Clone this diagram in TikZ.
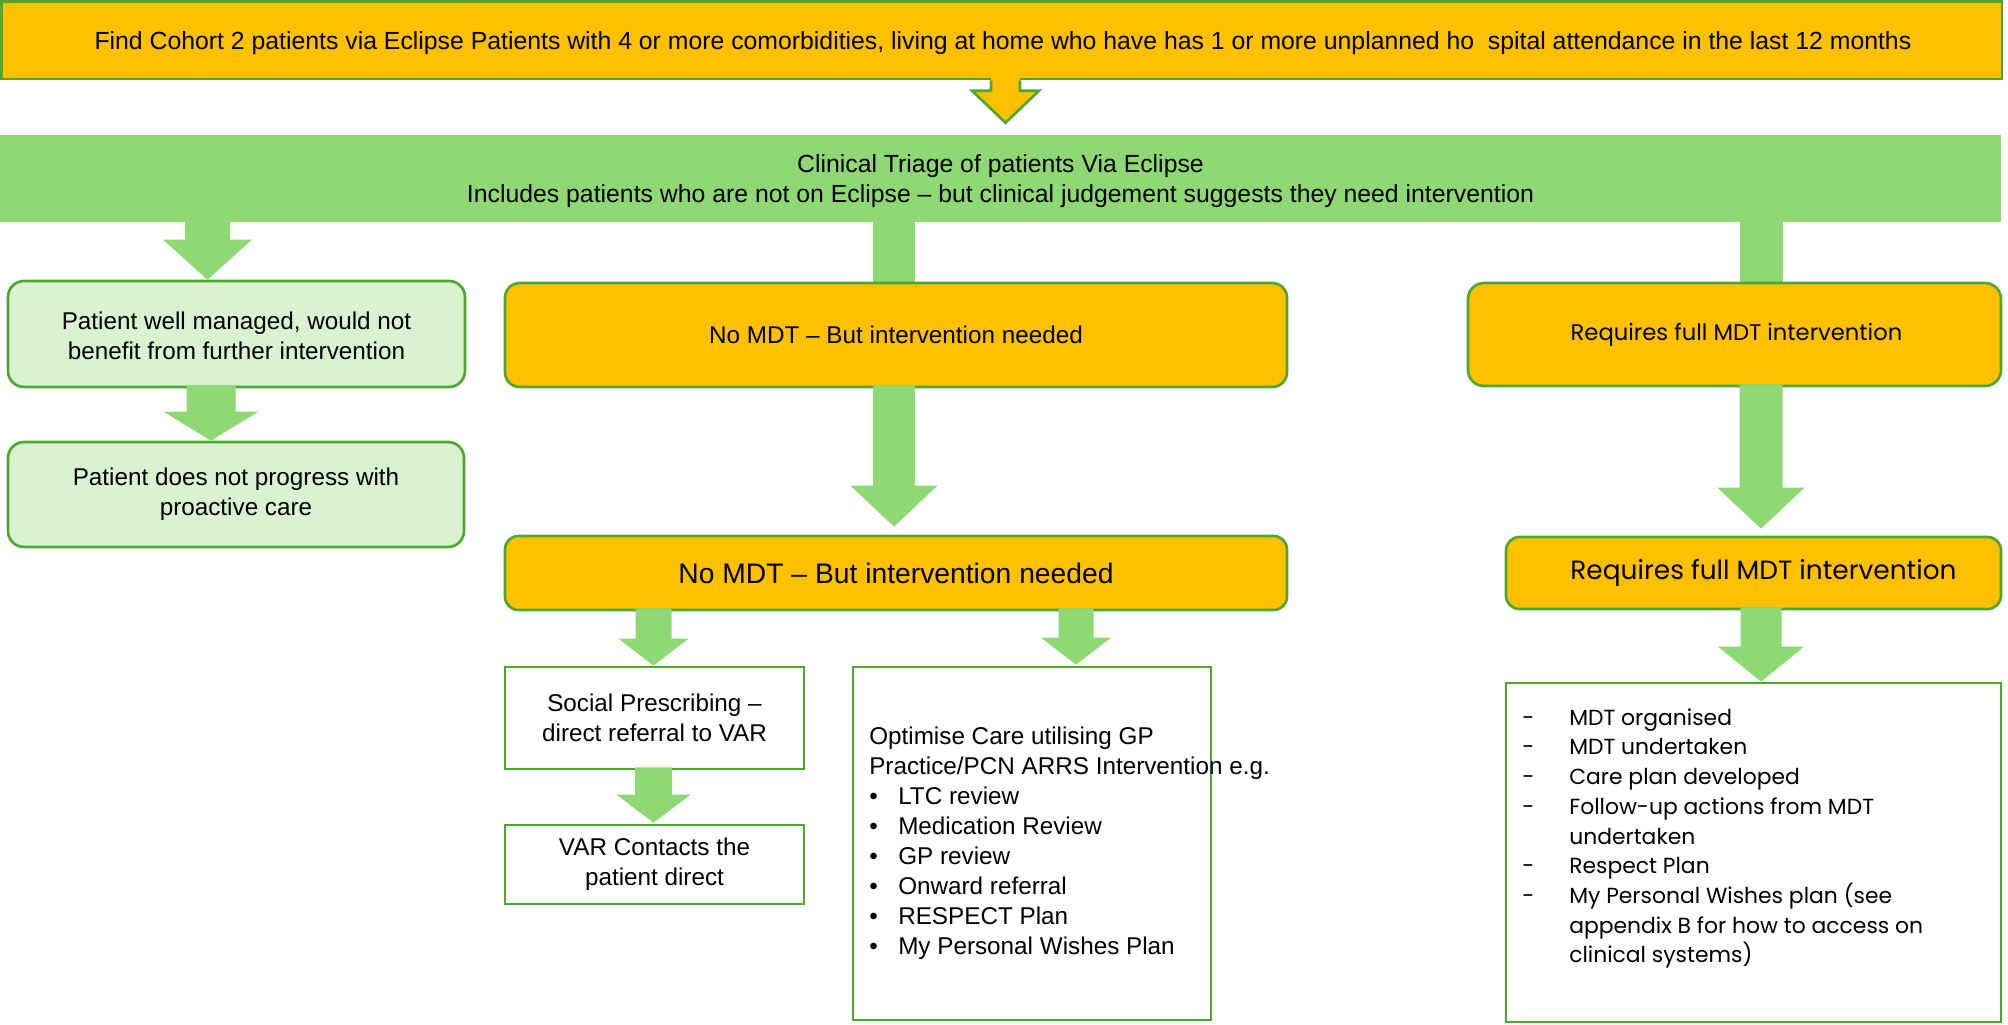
\documentclass[tikz,border=0pt]{standalone}
\usepackage{fontspec}
\setmainfont{Liberation Sans}
\newfontfamily\gothic{Poppins}
\usetikzlibrary{fit,calc}
\definecolor{gold}{HTML}{FFC000}
\definecolor{gline}{HTML}{4EA72E}
\definecolor{gfill}{HTML}{8ED973}
\definecolor{gpale}{HTML}{D9F2D0}
% block arrow: #1 style, #2 x-coordinate, #3 source, #4 target, #5 shaft half, #6 head half, #7 head length, #8 gap
\newcommand\blockarr[8]{%
  \path[#1] ($(#2 |- #3.south)+(-#5,-3)$) -- ($(#2 |- #3.south)+(#5,-3)$)
    -- ($(#2 |- #4.north)+(#5,-#7-#8)$) -- ($(#2 |- #4.north)+(#6,-#7-#8)$)
    -- ($(#2 |- #4.north)+(0,-#8)$) -- ($(#2 |- #4.north)+(-#6,-#7-#8)$)
    -- ($(#2 |- #4.north)+(-#5,-#7-#8)$) -- cycle;}
\newcommand\bulitem{\makebox[21.75pt][l]{\textbullet}}
\newcommand\dashitem{\makebox[35.25pt][l]{-}}
\begin{document}
\begin{tikzpicture}[x=0.75pt,y=-0.75pt,
  box/.style={draw=gline, line width=2pt, inner sep=0pt},
  goldbox/.style={box, fill=gold, rounded corners=11pt},
  palebox/.style={box, fill=gpale, rounded corners=12pt},
  whitebox/.style={box, fill=white},
  garrow/.style={fill=gfill},
  txt/.style={inner sep=0pt, align=center, text=black},
  basefont/.style={font=\fontsize{18.2}{22.5}\selectfont},
  headfont/.style={font=\fontsize{18.6}{22.5}\selectfont},
  bigfont/.style={font=\fontsize{21.2}{25}\selectfont},
  gfont/.style={font=\gothic\fontsize{16.4}{22.3}\selectfont},
  gmidfont/.style={font=\gothic\fontsize{17}{22.3}\selectfont},
  gbigfont/.style={font=\gothic\fontsize{19.8}{22.3}\selectfont},
]
\useasboundingbox (0,0) rectangle (2008,1024);

% x positions of connectors
\coordinate (xtop) at (1005.5,0);
\coordinate (xl) at (207.5,0);
\coordinate (xl2) at (211,0);
\coordinate (xm) at (894,0);
\coordinate (xr) at (1761,0);
\coordinate (xs) at (653.5,0);
\coordinate (xo) at (1076,0);

% top box and triage band
\node[box, fill=gold, fit={(1.5,1.5)(2002,79)}] (top) {};
\node[txt, headfont] (topt) at (1003,43)
  {Find Cohort 2 patients via Eclipse Patients with 4 or more comorbidities, living at home who have has 1 or more unplanned ho\ \ spital attendance in the last 12 months};
\node[fill=gfill, inner sep=0pt, fit={(0,135)(2001,222)}] (band) {};
\node[txt, headfont] (bandt) at ($(band.center)+(0,2.5)$)
  {Clinical Triage of patients Via Eclipse\\Includes patients who are not on Eclipse – but clinical judgement suggests they need intervention};

% top arrow (gold with green outline)
\fill[gold] ($(xtop |- top.south)+(-14.5,-3)$) -- ($(xtop |- top.south)+(14.5,-3)$)
  -- ($(xtop |- band.north)+(14.5,-44)$) -- ($(xtop |- band.north)+(33.5,-44)$)
  -- ($(xtop |- band.north)+(0,-12)$) -- ($(xtop |- band.north)+(-33.5,-44)$)
  -- ($(xtop |- band.north)+(-14.5,-44)$) -- cycle;
\draw[gline, line width=2pt, line join=miter] ($(xtop |- top.south)+(-14.5,0)$)
  -- ($(xtop |- band.north)+(-14.5,-44)$) -- ($(xtop |- band.north)+(-33.5,-44)$)
  -- ($(xtop |- band.north)+(0,-12)$) -- ($(xtop |- band.north)+(33.5,-44)$)
  -- ($(xtop |- band.north)+(14.5,-44)$) -- ($(xtop |- top.south)+(14.5,0)$);

% left boxes
\node[palebox, fit={(8,281)(465,387)}] (l1) {};
\node[txt, basefont] (l1t) at ($(l1.center)+(0,1.5)$) {Patient well managed, would not\\benefit from further intervention};
\node[palebox, fit={(8,442)(464,547)}] (l2) {};
\node[txt, basefont] (l2t) at (l2.center) {Patient does not progress with\\proactive care};

% bars from the band (behind the boxes)
\path[garrow] ($(xm |- band.south)+(-21,-2)$) rectangle ($(xm |- 0,284)+(21,0)$);
\path[garrow] ($(xr |- band.south)+(-21.5,-2)$) rectangle ($(xr |- 0,284)+(21.5,0)$);

% middle column
\node[goldbox, fit={(505,283)(1287,387)}] (m1) {};
\node[txt, basefont] (m1t) at (m1.center) {No MDT – But intervention needed};
\node[goldbox, rounded corners=10pt, fit={(505,536)(1287,610)}] (m2) {};
\node[txt, bigfont] (m2t) at (m2.center) {No MDT – But intervention needed};
\node[whitebox, fit={(505,667)(804,769)}] (s1) {};
\node[txt, basefont] (s1t) at (s1.center) {Social Prescribing –\\direct referral to VAR};
\node[whitebox, fit={(505,825)(804,904)}] (s2) {};
\node[txt, basefont] (s2t) at (s2.center) {VAR Contacts the\\patient direct};
\node[whitebox, fit={(853,667)(1211,1020)}] (o) {};
\node[txt, anchor=west, align=left, basefont] (otxt) at (869,843.5)
  {Optimise Care utilising GP\\Practice/PCN ARRS Intervention e.g.\\
   \bulitem LTC review\\\bulitem Medication Review\\\bulitem GP review\\
   \bulitem Onward referral\\\bulitem RESPECT Plan\\\bulitem My Personal Wishes Plan};

% right column
\node[goldbox, rounded corners=12pt, fit={(1468,283)(2001,386)}] (r1) {};
\node[txt, gmidfont] (r1t) at ($(r1.center)+(2,0)$) {Requires full MDT intervention};
\node[goldbox, rounded corners=10pt, fit={(1506,537)(2001,609)}] (r2) {};
\node[txt, gbigfont] (r2t) at ($(r2.center)+(10,0)$) {Requires full MDT intervention};
\node[whitebox, fit={(1506,683)(2001,1022)}] (r3) {};
\node[txt, anchor=west, align=left, gfont] (rtxt) at (1522,838.5)
  {\dashitem MDT organised\\\dashitem MDT undertaken\\\dashitem Care plan developed\\
   \dashitem Follow-up actions from MDT\\\hspace*{35.25pt}undertaken\\
   \dashitem Respect Plan\\\dashitem My Personal Wishes plan (see\\
   \hspace*{35.25pt}appendix B for how to access on\\\hspace*{35.25pt}clinical systems)};

% green block arrows
\blockarr{garrow}{xl}{band}{l1}{22.5}{44.5}{40}{0}
\blockarr{garrow}{xl2}{l1}{l2}{24.5}{47.5}{29}{0}
\blockarr{garrow}{xm}{m1}{m2}{21}{43.5}{41}{8}
\blockarr{garrow}{xr}{r1}{r2}{21.5}{43.5}{41}{7}
\blockarr{garrow}{xr}{r2}{r3}{20.5}{43}{35}{0}
\blockarr{garrow}{xs}{m2}{s1}{18}{35}{27}{0}
\blockarr{garrow}{xs}{s1}{s2}{18.5}{37}{28}{1}
\blockarr{garrow}{xo}{m2}{o}{17.5}{35}{27}{1}
\end{tikzpicture}
\end{document}
